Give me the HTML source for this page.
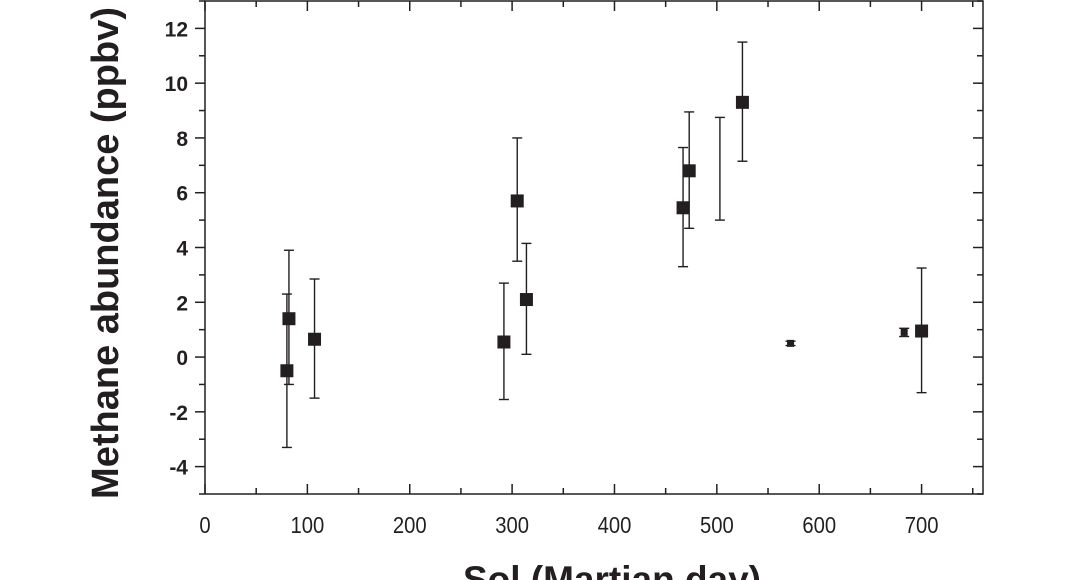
<!DOCTYPE html>
<html><head><meta charset="utf-8"><style>
html,body{margin:0;padding:0;background:#fff;}
svg{display:block;font-family:"Liberation Sans",sans-serif;}
</style></head><body>
<svg id="chart" width="1068" height="580"></svg>
<script>
const sols=[80,82,107,292,305,314,467,473,503,525,572,683,700];
const values=[-0.5,1.4,0.65,0.55,5.7,2.1,5.45,6.8,6.9,9.3,0.5,0.9,0.95];
const errLow=[-3.3,-1.0,-1.5,-1.55,3.5,0.1,3.3,4.7,5.0,7.15,0.42,0.75,-1.3];
const errHigh=[2.3,3.9,2.85,2.7,8.0,4.15,7.65,8.95,8.75,11.5,0.58,1.05,3.25];
const markerKind=["big","big","big","big","big","big","big","big","none","big","small","small","big"];
const xTicks=[0,100,200,300,400,500,600,700];
const yTicks=[-4,-2,0,2,4,6,8,10,12];

const NS="http://www.w3.org/2000/svg";
const svg=document.getElementById('chart');
const L=205,R=983,T=1,B=494;
const xMin=0,xMax=760,yMin=-5,yMax=13;
const xs=v=>L+(v-xMin)/(xMax-xMin)*(R-L);
const ys=v=>B-(v-yMin)/(yMax-yMin)*(B-T);
function mk(tag,attrs,parent){const e=document.createElementNS(NS,tag);for(const k in attrs)e.setAttribute(k,attrs[k]);(parent||svg).appendChild(e);return e;}

const frame=mk('rect',{x:L,y:T,width:R-L,height:B-T,fill:'none',stroke:'#231f20','stroke-width':1.5});



for(let v=0;v<=750;v+=50){
  const major=v%100===0;const len=major?10:6;
  const t1=mk('line',{x1:xs(v),x2:xs(v),y1:B,y2:B-len,stroke:'#231f20','stroke-width':1.5});
  
  
  const t2=mk('line',{x1:xs(v),x2:xs(v),y1:T,y2:T+len,stroke:'#231f20','stroke-width':1.5});
  
  
}
xTicks.forEach(v=>{
  const t=mk('text',{x:xs(v),y:533,'text-anchor':'middle','font-size':23,fill:'#231f20',transform:`translate(${xs(v)*0.12},0) scale(0.88,1)`});
  t.textContent=v;
  
  
});
for(let v=-5;v<=13;v+=1){
  const major=v%2===0;const len=major?10:6;
  const t1=mk('line',{x1:L,x2:L-len,y1:ys(v),y2:ys(v),stroke:'#231f20','stroke-width':1.5});
  
  
  const t2=mk('line',{x1:R,x2:R-len,y1:ys(v),y2:ys(v),stroke:'#231f20','stroke-width':1.5});
  
  
}
yTicks.forEach(v=>{
  const t=mk('text',{x:188,y:ys(v)+8,'text-anchor':'end','font-size':21,'font-weight':'bold',fill:'#231f20'});
  t.textContent=v;
  
  
});
const yt=mk('text',{x:0,y:0,transform:'translate(118,253) rotate(-90)','text-anchor':'middle','font-size':38,'font-weight':'bold',fill:'#231f20'});
yt.textContent='Methane abundance (ppbv)';


const xt=mk('text',{x:612,y:592,'text-anchor':'middle','font-size':37,'font-weight':'bold',fill:'#231f20'});
xt.textContent='Sol (Martian day)';



sols.forEach((s,i)=>{
  const x=xs(s);
  const g=mk('g',{});
  
  
  const cap=5;
  mk('line',{x1:x,x2:x,y1:ys(errLow[i]),y2:ys(errHigh[i]),stroke:'#231f20','stroke-width':1.4},g);
  mk('line',{x1:x-cap,x2:x+cap,y1:ys(errLow[i]),y2:ys(errLow[i]),stroke:'#231f20','stroke-width':1.4},g);
  mk('line',{x1:x-cap,x2:x+cap,y1:ys(errHigh[i]),y2:ys(errHigh[i]),stroke:'#231f20','stroke-width':1.4},g);
  if(markerKind[i]!=='none'){
    const sz=markerKind[i]==='big'?13:7;
    mk('rect',{x:x-sz/2,y:ys(values[i])-sz/2,width:sz,height:sz,fill:'#231f20'},g);
  }
});
</script>
</body></html>
